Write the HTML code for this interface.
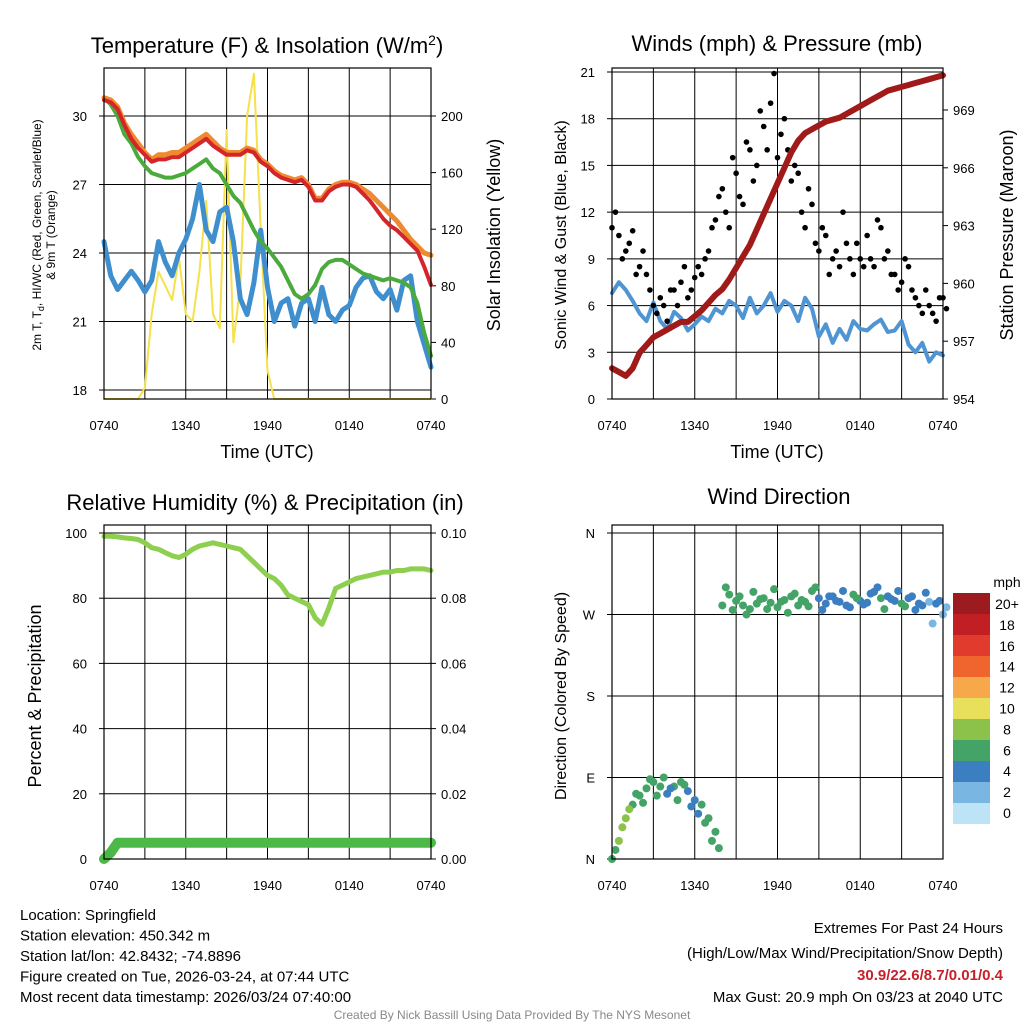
<!DOCTYPE html>
<html><head><meta charset="utf-8"><style>
body{margin:0;background:#fff;font-family:"Liberation Sans",sans-serif}
svg text{font-family:"Liberation Sans",sans-serif}
</style></head><body>
<svg id="s" width="1024" height="1024" viewBox="0 0 1024 1024" xmlns="http://www.w3.org/2000/svg">
<rect width="1024" height="1024" fill="#fff"/>
<g id="g"></g>
</svg>
<script>
const timeTicks=["0740","1340","1940","0140","0740"];
const tempRed=[30.7,30.6,30.3,29.6,29.0,28.6,28.3,28.0,28.1,28.1,28.2,28.2,28.4,28.6,28.8,29.0,28.7,28.5,28.3,28.3,28.3,28.5,28.4,28.0,27.8,27.5,27.3,27.2,27.1,27.2,26.9,26.3,26.3,26.7,26.9,27.0,27.0,26.9,26.6,26.3,25.9,25.5,25.2,25.0,24.7,24.4,24.1,23.4,22.6];
const tempOrange=[30.8,30.7,30.4,29.7,29.2,28.8,28.4,28.1,28.3,28.3,28.4,28.4,28.6,28.8,29.0,29.2,28.9,28.6,28.4,28.4,28.4,28.6,28.5,28.1,27.9,27.6,27.4,27.3,27.2,27.3,27.0,26.4,26.4,26.8,27.0,27.1,27.1,27.0,26.8,26.6,26.3,26.0,25.7,25.4,25.0,24.6,24.3,24.0,23.9];
const tempGreen=[30.8,30.5,30.0,29.2,28.8,28.2,27.8,27.5,27.4,27.3,27.3,27.4,27.5,27.7,27.9,28.1,27.7,27.5,27.0,26.5,26.2,25.6,25.0,24.5,24.2,23.8,23.4,22.8,22.2,22.0,22.2,22.6,23.3,23.6,23.7,23.7,23.5,23.3,23.1,23.0,22.9,22.8,22.9,22.8,22.7,22.5,21.8,20.5,19.5];
const tempBlue=[24.5,23.0,22.4,22.8,23.2,22.8,22.3,22.8,24.5,23.6,23.0,24.0,24.6,25.5,27.0,25.0,24.5,25.8,26.0,24.5,22.0,21.3,22.7,25.0,22.5,21.0,21.8,22.0,20.8,21.8,22.0,21.0,22.5,21.3,21.0,21.5,21.7,22.5,22.9,23.0,22.3,22.0,22.4,21.5,22.8,23.0,21.0,20.0,19.0];
const solar=[0,0,0,0,0,0,8,60,90,80,70,100,60,55,90,140,60,50,190,40,80,200,230,120,20,0,0,0,0,0,0,0,0,0,0,0,0,0,0,0,0,0,0,0,0,0,0,0,0];
const windSpeed=[6.8,7.5,7.0,6.3,5.5,5.0,6.2,5.0,4.5,5.6,5.2,4.4,4.8,5.3,5.0,5.8,5.5,6.3,6.0,5.2,6.5,5.5,6.0,6.8,5.6,6.3,6.0,5.0,6.5,5.8,4.0,4.8,3.6,4.5,3.8,5.0,4.5,4.4,4.8,5.1,4.3,4.4,5.0,3.5,3.0,3.6,2.4,3.0,2.8];
const windGust=[11.0,10.5,9.5,10.8,8.5,8.0,6.0,6.5,5.0,7.0,7.5,6.5,7.8,8.0,9.5,11.5,13.5,11.0,14.5,12.5,16.0,15.0,17.5,19.0,15.5,18.0,14.0,14.5,11.0,12.5,9.5,10.5,9.0,8.5,10.0,8.0,9.0,10.5,8.5,11.0,9.5,8.0,7.5,8.5,6.5,5.5,6.0,5.0,6.5];
const windGust2=[12.0,9.0,10.0,8.0,9.5,7.0,5.5,6.0,7.0,6.0,8.5,7.0,8.5,9.0,11.0,13.0,12.0,15.5,13.0,16.5,14.0,18.5,16.0,20.9,17.0,16.0,15.0,12.0,13.5,10.0,11.0,8.0,9.5,12.0,9.0,10.0,8.5,9.0,11.5,9.0,8.0,7.0,9.0,7.0,6.0,7.0,5.5,6.5,5.8];
const pressure=[955.6,955.4,955.2,955.6,956.4,956.8,957.2,957.4,957.6,957.8,958.0,958.0,958.3,958.6,959.0,959.4,959.7,960.2,960.8,961.4,962.0,962.8,963.6,964.4,965.2,966.0,966.8,967.4,967.8,968.0,968.2,968.4,968.5,968.6,968.8,969.0,969.2,969.4,969.6,969.8,970.0,970.1,970.2,970.3,970.4,970.5,970.6,970.7,970.8];
const windDir=[0,20,45,60,70,78,85,80,72,80,85,75,65,60,45,30,280,292,285,280,276,282,288,283,278,286,290,280,284,296,288,282,290,284,280,292,285,283,295,288,290,285,282,288,275,280,284,282,270];
const windDir2=[10,35,55,72,62,88,70,90,78,65,82,58,50,40,20,12,300,275,290,270,295,287,276,298,284,272,293,286,279,300,275,290,285,296,278,288,281,293,300,276,287,296,279,290,282,294,260,285,278];
const humidity=[99,99,98.8,98.5,98.3,98,97,95.5,95,94,93,92.5,93.5,95,96,96.5,97,96.5,96,95.5,95,93,91,89,87,86,84,81,80,79,78,74,72,77,83,84,85,86,86.5,87,87.5,88,88,88.5,88.5,89,89,89,88.5];
const precip=[0,0.002,0.005,0.005,0.005,0.005,0.005,0.005,0.005,0.005,0.005,0.005,0.005,0.005,0.005,0.005,0.005,0.005,0.005,0.005,0.005,0.005,0.005,0.005,0.005,0.005,0.005,0.005,0.005,0.005,0.005,0.005,0.005,0.005,0.005,0.005,0.005,0.005,0.005,0.005,0.005,0.005,0.005,0.005,0.005,0.005,0.005,0.005,0.005];
const cbarLabels=["20+","18","16","14","12","10","8","6","4","2","0"];
const cbarColors=["#9b1b1e","#c21f25","#e03b2c","#f0652d","#f7a84a","#e8e05a","#8cc24a","#44a468","#3b7fc0","#7ab6e2","#bde3f6"];

const NS="http://www.w3.org/2000/svg";
const G=document.getElementById('g');
function el(tag,attrs,parent){const e=document.createElementNS(NS,tag);for(const k in attrs)e.setAttribute(k,attrs[k]);(parent||G).appendChild(e);return e;}
function txt(x,y,s,size,anchor,name,extra){const t=el('text',Object.assign({x:x,y:y,'font-size':size,'text-anchor':anchor||'middle',fill:'#000'},extra||{}));t.textContent=s;


return t;}
function scale(d0,d1,r0,r1){return v=>r0+(v-d0)*(r1-r0)/(d1-d0);}
const N=48;
function panel(x0,x1,y0,y1,name){
  const xs=scale(0,N,x0,x1);
  const g=el('g',{});
  
  
  for(let i=0;i<=8;i++){const x=xs(i*6);el('line',{x1:x,x2:x,y1:y0,y2:y1,stroke:'#000','stroke-width':1},g);}
  for(let i=0;i<timeTicks.length;i++){txt(xs(i*12),y1+31,timeTicks[i],13,'middle','x-tick-label');}
  return {xs,g};
}
function yticks(g,vals,ys,x0,x1,labels,side,grid){
  vals.forEach((v,i)=>{const y=ys(v);
    if(grid)el('line',{x1:x0,x2:x1,y1:y,y2:y,stroke:'#000','stroke-width':1},g);
    el('line',{x1:side==='l'?x0-5:x1,x2:side==='l'?x0:x1+5,y1:y,y2:y,stroke:'#000'},g);
    txt(side==='l'?x0-17:x1+10,y+5,labels[i],13,side==='l'?'end':'start',side==='l'?'y-tick-label':'right-y-tick-label');});
}
function line(arr,xs,ys,color,w,name){
  const d=arr.map((v,i)=>(i?'L':'M')+xs(i).toFixed(1)+' '+ys(v).toFixed(1)).join(' ');
  const p=el('path',{d:d,fill:'none',stroke:color,'stroke-width':w,'stroke-linejoin':'round','stroke-linecap':'round'});
  
  
}
function frame(x0,x1,y0,y1){el('rect',{x:x0,y:y0,width:x1-x0,height:y1-y0,fill:'none',stroke:'#000','stroke-width':1.2});}

// Panel 1
{const x0=104,x1=431,y0=68,y1=399;
 const P=panel(x0,x1,y0,y1,'temperature-panel');
 const yl=scale(18,30,390,116), yr=scale(0,200,399,116);
 yticks(P.g,[18,21,24,27,30],yl,x0,x1,["18","21","24","27","30"],'l',true);
 yticks(P.g,[0,40,80,120,160,200],yr,x0,x1,["0","40","80","120","160","200"],'r',false);
 line(solar,P.xs,yr,'#f5e14a',2,'solar-insolation-line');
 line(tempBlue,P.xs,yl,'#3f8fcf',5,'dewpoint-line');
 line(tempGreen,P.xs,yl,'#4aaa3c',4,'wind-chill-line');
 line(tempOrange,P.xs,yl,'#f08a30',5,'temp-9m-line');
 line(tempRed,P.xs,yl,'#d4262a',4,'temp-2m-line');
 frame(x0,x1,y0,y1);
 const t=txt(267,53,'Temperature (F) & Insolation (W/m',22,'middle','chart-title-temperature');
 const ts=el('tspan',{dy:-8,'font-size':14},t);ts.textContent='2';
 const ts2=el('tspan',{dy:8},t);ts2.textContent=')';
 txt(267,458,'Time (UTC)',18,'middle','x-axis-title');
 const yt=txt(0,0,'2m T, T',12,'middle','y-axis-title-left',{transform:'translate(41,235) rotate(-90)'});
 const sb=el('tspan',{dy:3,'font-size':9},yt);sb.textContent='d';
 const sb2=el('tspan',{dy:-3},yt);sb2.textContent=', HI/WC (Red, Green, Scarlet/Blue)';
 txt(0,0,'& 9m T (Orange)',12,'middle','y-axis-title-left-2',{transform:'translate(55,235) rotate(-90)'});
 txt(0,0,'Solar Insolation (Yellow)',18,'middle','y-axis-title-right',{transform:'translate(500,235) rotate(-90)'});
}
// Panel 2
{const x0=612,x1=943,y0=68,y1=399;
 const P=panel(x0,x1,y0,y1,'winds-panel');
 const yl=scale(0,21,399,72), yr=scale(954,969,399,110);
 yticks(P.g,[0,3,6,9,12,15,18,21],yl,x0,x1,["0","3","6","9","12","15","18","21"],'l',true);
 yticks(P.g,[954,957,960,963,966,969],yr,x0,x1,["954","957","960","963","966","969"],'r',false);
 line(windSpeed,P.xs,yl,'#4f95d3',4,'sonic-wind-line');
 [windGust,windGust2].forEach((arr,k)=>arr.forEach((v,i)=>{const c=el('circle',{cx:P.xs(i+k*0.5),cy:yl(v),r:2.8,fill:'#000'});
  
  }));
 line(pressure,P.xs,yr,'#a01a1a',6,'pressure-line');
 frame(x0,x1,y0,y1);
 txt(777,51,'Winds (mph) & Pressure (mb)',22,'middle','chart-title-winds');
 txt(777,458,'Time (UTC)',18,'middle','x-axis-title');
 txt(0,0,'Sonic Wind & Gust (Blue, Black)',16,'middle','y-axis-title-left',{transform:'translate(566,235) rotate(-90)'});
 txt(0,0,'Station Pressure (Maroon)',18,'middle','y-axis-title-right',{transform:'translate(1013,235) rotate(-90)'});
}
// Panel 3
{const x0=104,x1=431,y0=525,y1=859;
 const P=panel(x0,x1,y0,y1,'humidity-panel');
 const yl=scale(0,100,859,533), yr=scale(0,0.1,859,533);
 yticks(P.g,[0,20,40,60,80,100],yl,x0,x1,["0","20","40","60","80","100"],'l',true);
 yticks(P.g,[0,0.02,0.04,0.06,0.08,0.1],yr,x0,x1,["0.00","0.02","0.04","0.06","0.08","0.10"],'r',false);
 line(humidity,P.xs,yl,'#8fcf4f',5,'humidity-line');
 line(precip,P.xs,yr,'#4cb848',10,'precipitation-line');
 frame(x0,x1,y0,y1);
 txt(265,510,'Relative Humidity (%) & Precipitation (in)',22,'middle','chart-title-humidity');
 txt(0,0,'Percent & Precipitation',18,'middle','y-axis-title-left',{transform:'translate(41,696) rotate(-90)'});
}
// Panel 4
{const x0=612,x1=943,y0=525,y1=859;
 const P=panel(x0,x1,y0,y1,'wind-direction-panel');
 const yl=scale(0,360,859,533);
 yticks(P.g,[0,90,180,270,360],yl,x0,x1,["N","E","S","W","N"],'l',true);
 [windDir,windDir2].forEach((arr,k)=>arr.forEach((v,i)=>{const s=windSpeed[i];const idx=Math.max(0,Math.min(10,10-Math.round(s/2)));
  const c=el('circle',{cx:P.xs(i+k*0.5),cy:yl(v),r:4,fill:cbarColors[idx]});
  
  }));
 frame(x0,x1,y0,y1);
 txt(779,504,'Wind Direction',22,'middle','chart-title-direction');
 txt(0,0,'Direction (Colored By Speed)',16,'middle','y-axis-title-left',{transform:'translate(566,696) rotate(-90)'});
 txt(1007,587,'mph',14,'middle','colorbar-title');
 cbarColors.forEach((c,i)=>{const r=el('rect',{x:953,y:593+i*21,width:37,height:21,fill:c});
  
  
  txt(1007,609+i*20.9,cbarLabels[i],14,'middle','colorbar-label');});
}
const info=["Location: Springfield","Station elevation: 450.342 m","Station lat/lon: 42.8432; -74.8896","Figure created on Tue, 2026-03-24, at 07:44 UTC","Most recent data timestamp: 2026/03/24 07:40:00"];
info.forEach((s,i)=>txt(20,920+i*20.5,s,15,'start','station-info-line'));
txt(1003,933,'Extremes For Past 24 Hours',15,'end','extremes-title');
txt(1003,958,'(High/Low/Max Wind/Precipitation/Snow Depth)',15,'end','extremes-subtitle');
txt(1003,980,'30.9/22.6/8.7/0.01/0.4',15,'end','extremes-values',{fill:'#c8202a','font-weight':'bold'});
txt(1003,1002,'Max Gust: 20.9 mph On 03/23 at 2040 UTC',15,'end','max-gust-text');
txt(512,1019,'Created By Nick Bassill Using Data Provided By The NYS Mesonet',12,'middle','credit-text',{fill:'#888'});
</script>
</body></html>
